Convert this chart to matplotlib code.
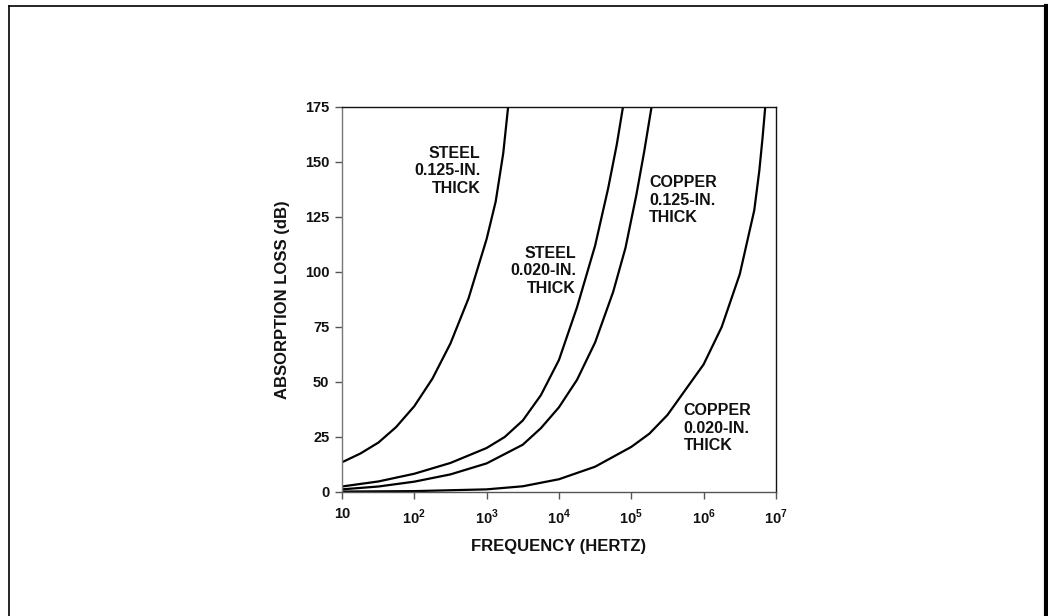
import matplotlib
matplotlib.use("Agg")
import matplotlib.pyplot as plt
from matplotlib.lines import Line2D

plt.rcParams["font.family"] = ["Liberation Sans", "DejaVu Sans"]
plt.rcParams["mathtext.fontset"] = "custom"
plt.rcParams["mathtext.rm"] = "Liberation Sans:bold"
plt.rcParams["mathtext.bf"] = "Liberation Sans:bold"

# --- data (frequency in Hz, absorption loss in dB) ---
steel_125_f = [10, 18, 32, 56, 100, 178, 316, 562, 1000, 1334, 1698, 1982]
steel_125_db = [13.5, 17.5, 22.5, 29.5, 39, 51.5, 67.5, 88, 115, 132, 154, 175]

steel_020_f = [10, 32, 100, 316, 1000, 1778, 3162, 5623, 10000, 17783, 31623,
               47863, 63096, 76736]
steel_020_db = [2.5, 4.8, 8.3, 13.2, 20, 25, 32.5, 44, 60, 84, 112, 138, 158, 175]

copper_125_f = [10, 32, 100, 316, 1000, 3162, 5623, 10000, 17783, 31623, 56234,
                83176, 117490, 151356, 190546]
copper_125_db = [1.2, 2.5, 4.7, 8, 13, 21.5, 29, 38.5, 51, 68, 91, 111, 135, 155, 175]

copper_020_f = [10, 100, 1000, 3162, 10000, 31623, 100000, 177828, 316228, 562341,
                1000000, 1778279, 3162278, 5011872, 5888437, 6531306, 7112135]
copper_020_db = [0.2, 0.4, 1.2, 2.6, 5.8, 11.5, 20.5, 26.5, 35, 46.5, 58, 75, 99,
                 128, 146, 161, 175]

x_ticks = [10, 1e2, 1e3, 1e4, 1e5, 1e6, 1e7]
x_tick_labels = ["10", r"$10^{2}$", r"$10^{3}$", r"$10^{4}$", r"$10^{5}$", r"$10^{6}$", r"$10^{7}$"]
y_ticks = [0, 25, 50, 75, 100, 125, 150, 175]

fig = plt.figure(figsize=(10.48, 6.16), dpi=100)
ax = fig.add_axes([0.3263, 0.2013, 0.4141, 0.625])

for f, db in [(steel_125_f, steel_125_db), (steel_020_f, steel_020_db),
              (copper_125_f, copper_125_db), (copper_020_f, copper_020_db)]:
    ax.plot(f, db, color="black", linewidth=1.6, solid_joinstyle="round")

ax.set_xscale("log")
ax.set_xlim(10, 1e7)
ax.set_ylim(0, 175)
ax.set_xticks(x_ticks)
ax.set_xticklabels(x_tick_labels)
ax.minorticks_off()
ax.set_yticks(y_ticks)
ax.tick_params(direction="out", length=5, width=1, colors="#555", labelcolor="#111",
               labelsize=10.5)
ax.tick_params(axis="x", pad=6)
ax.tick_params(axis="y", pad=4)
for lab in ax.get_xticklabels() + ax.get_yticklabels():
    lab.set_fontweight("bold")

ax.spines["left"].set_color("#777")
ax.spines["bottom"].set_color("#555")
ax.spines["top"].set_color("#111")
ax.spines["right"].set_color("#111")
for s in ax.spines.values():
    s.set_linewidth(1.0)

ax.set_xlabel("FREQUENCY (HERTZ)", fontsize=12, fontweight="bold", color="#111", labelpad=9)
ax.set_ylabel("ABSORPTION LOSS (dB)", fontsize=12, fontweight="bold", color="#111", labelpad=11)

lbl = dict(fontsize=11.5, fontweight="bold", color="#111", va="center", linespacing=1.21)
ax.text(826, 146, "STEEL\n0.125-IN.\nTHICK", ha="right", multialignment="right", **lbl)
ax.text(17200, 100.5, "STEEL\n0.020-IN.\nTHICK", ha="right", multialignment="right", **lbl)
ax.text(176000, 132.7, "COPPER\n0.125-IN.\nTHICK", ha="left", multialignment="left", **lbl)
ax.text(532000, 29, "COPPER\n0.020-IN.\nTHICK", ha="left", multialignment="left", **lbl)

# outer frame of the scanned page
W, H = 1048, 616
def px(x, y):
    return x / W, 1 - y / H
for (x0, y0), (x1, y1), lw in [((8.7, 616), (8.7, 5.7), 1.2),
                               ((8.7, 5.7), (1046, 5.7), 1.2),
                               ((1046, 5.7), (1046, 616), 3.0)]:
    a, b = px(x0, y0)
    c, d = px(x1, y1)
    fig.add_artist(Line2D([a, c], [b, d], transform=fig.transFigure,
                          color="black", linewidth=lw))

fig.savefig("out.png", dpi=100)
